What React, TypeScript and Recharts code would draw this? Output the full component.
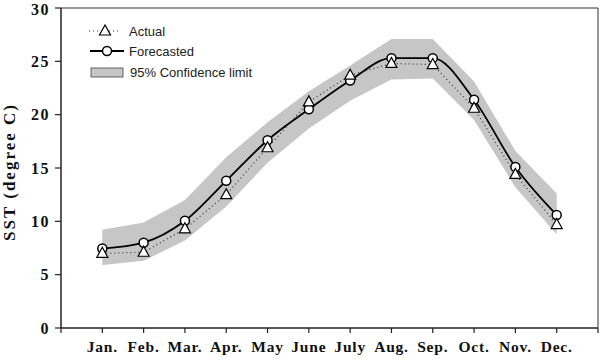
import {
  ComposedChart,
  Area,
  Line,
  XAxis,
  YAxis,
  ReferenceLine,
  Label,
} from "recharts";

const months = ["Jan.", "Feb.", "Mar.", "Apr.", "May", "June", "July", "Aug.", "Sep.", "Oct.", "Nov.", "Dec."];
const actual = [7.0, 7.1, 9.3, 12.5, 16.9, 21.2, 23.7, 24.8, 24.7, 20.6, 14.4, 9.7];
const forecasted = [7.45, 8.0, 10.05, 13.8, 17.6, 20.5, 23.2, 25.3, 25.3, 21.4, 15.1, 10.6];
const lower = [5.9, 6.3, 8.2, 11.4, 15.5, 18.7, 21.3, 23.3, 23.4, 19.5, 13.2, 8.8];
const upper = [9.2, 9.9, 12.0, 16.0, 19.3, 22.2, 24.6, 27.1, 27.1, 23.1, 16.6, 12.6];
const xTicks = [0, 1, 2, 3, 4, 5, 6, 7, 8, 9, 10, 11, 12, 13];
const yTicks = [0, 5, 10, 15, 20, 25, 30];

const data = months.map((m, i) => ({
  x: i + 1,
  month: m,
  actual: actual[i],
  forecasted: forecasted[i],
  band: [lower[i], upper[i]],
}));

const serif = "'Liberation Serif', 'Times New Roman', serif";
const sans = "'Liberation Sans', Arial, sans-serif";

function Triangle(props: any) {
  const { cx, cy } = props;
  if (cx == null || cy == null) return null;
  return (
    <polygon
      points={`${cx},${cy - 6} ${cx - 5.5},${cy + 4} ${cx + 5.5},${cy + 4}`}
      fill="#fff"
      stroke="#000"
      strokeWidth={1.2}
    />
  );
}

function LegendBox() {
  return (
    <svg
      width={300}
      height={90}
      style={{ position: "absolute", left: 0, top: 0, pointerEvents: "none" }}
    >
      <line x1={89} y1={31} x2={120} y2={31} stroke="#333" strokeWidth={1.2} strokeDasharray="1 3" />
      <Triangle cx={105} cy={31} />
      <text x={129} y={35.5} fontFamily={sans} fontSize={13} fill="#222">Actual</text>
      <line x1={90} y1={51} x2={124} y2={51} stroke="#000" strokeWidth={1.8} />
      <circle cx={107} cy={51} r={4.5} fill="#fff" stroke="#000" strokeWidth={1.5} />
      <text x={129} y={55.5} fontFamily={sans} fontSize={13} fill="#222">Forecasted</text>
      <rect x={91} y={68} width={32} height={9} fill="#c6c6c6" stroke="#444" strokeWidth={0.8} />
      <text x={130} y={76.5} fontFamily={sans} fontSize={13} fill="#222">95% Confidence limit</text>
    </svg>
  );
}

export default function App() {
  return (
    <div style={{ position: "absolute", left: 0, top: 0, width: 600, height: 360, background: "#fff" }}>
      <ComposedChart
        width={600}
        height={360}
        data={data}
        margin={{ top: 8, right: 2, bottom: 0, left: 0 }}
      >
        <XAxis
          type="number"
          dataKey="x"
          domain={[0, 13]}
          ticks={xTicks}
          interval={0}
          height={32}
          tickSize={5}
          tickMargin={8}
          tickFormatter={(v: number) => months[v - 1] ?? ""}
          tick={{ fontFamily: serif, fontSize: 15.5, fontWeight: "bold", fill: "#111", letterSpacing: 0.8 }}
          axisLine={{ stroke: "#222", strokeWidth: 1.5 }}
          tickLine={{ stroke: "#222", strokeWidth: 1.2 }}
        />
        <YAxis
          type="number"
          domain={[0, 30]}
          ticks={yTicks}
          width={61}
          tickSize={6}
          tickMargin={5}
          tick={{ fontFamily: serif, fontSize: 16, fontWeight: "bold", fill: "#111", letterSpacing: 1.5 }}
          axisLine={{ stroke: "#222", strokeWidth: 1.5 }}
          tickLine={{ stroke: "#222", strokeWidth: 1.2 }}
        >
          <Label
            content={() => (
              <text
                x={15}
                y={172}
                transform="rotate(-90 15 172)"
                textAnchor="middle"
                fontFamily={serif}
                fontSize={17}
                fontWeight="bold"
                letterSpacing={2}
                fill="#111"
              >
                SST (degree C)
              </text>
            )}
          />
        </YAxis>
        <ReferenceLine y={30} stroke="#333" strokeWidth={1} />
        <ReferenceLine x={13} stroke="#333" strokeWidth={1} />
        <Area
          type="linear"
          dataKey="band"
          stroke="none"
          fill="#c6c6c6"
          fillOpacity={1}
          isAnimationActive={false}
          activeDot={false}
        />
        <Line
          type="monotone"
          dataKey="forecasted"
          stroke="#000"
          strokeWidth={1.8}
          dot={{ r: 4.5, fill: "#fff", stroke: "#000", strokeWidth: 1.5 }}
          activeDot={false}
          isAnimationActive={false}
        />
        <Line
          type="linear"
          dataKey="actual"
          stroke="#333"
          strokeWidth={1.2}
          strokeDasharray="1 3"
          dot={<Triangle />}
          activeDot={false}
          isAnimationActive={false}
        />
      </ComposedChart>
      <LegendBox />
    </div>
  );
}
